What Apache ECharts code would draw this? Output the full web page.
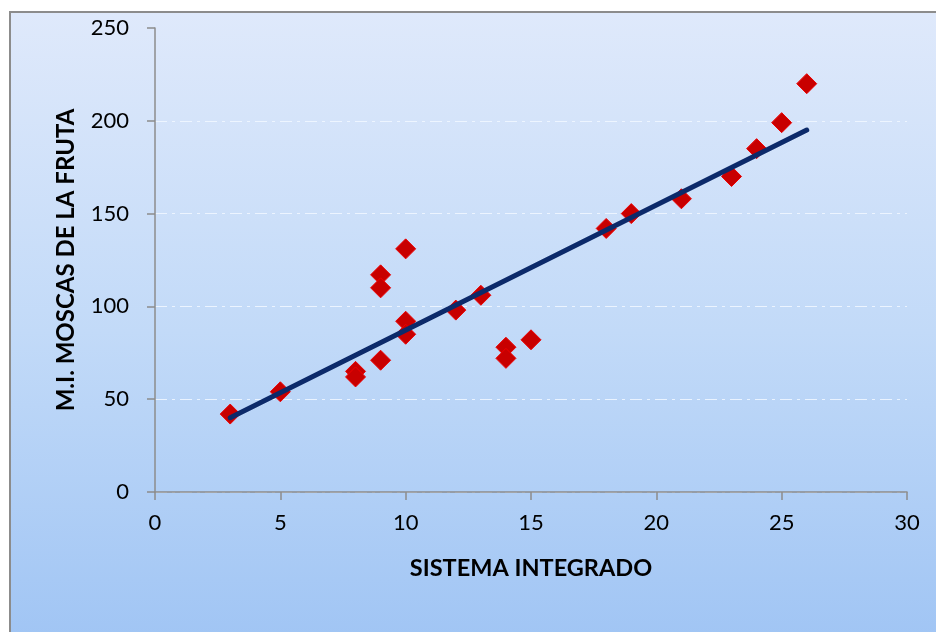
<!DOCTYPE html>
<html>
<head>
<meta charset="utf-8">
<script src="https://cdn.jsdelivr.net/npm/echarts@6/dist/echarts.min.js"></script>
<style>
html,body{margin:0;padding:0;background:#fff;}
#c{width:936px;height:632px;}
</style>
</head>
<body>
<div id="c"></div>
<script>
const xValues = [3, 5, 8, 8, 9, 9, 9, 10, 10, 10, 12, 13, 14, 14, 15, 18, 19, 21, 23, 24, 25, 26];
const yValues = [42, 54, 65, 62, 117, 110, 71, 131, 92, 85, 98, 106, 78, 72, 82, 142, 150, 158, 170, 185, 199, 220];
const trendX = [3, 26];
const trendY = [40, 195];
const xTicks = [0, 5, 10, 15, 20, 25, 30];
const yTicks = [0, 50, 100, 150, 200, 250];

const chart = echarts.init(document.getElementById('c'), null, {renderer: 'canvas'});
const FONT = 'Lato';
chart.setOption({
  animation: false,
  backgroundColor: '#ffffff',
  graphic: [{
    type: 'rect', z: -10, silent: true,
    shape: {x: 10, y: 12, width: 940, height: 640},
    style: {
      fill: new echarts.graphic.LinearGradient(0, 0, 0, 1, [
        {offset: 0, color: '#dfe9fb'},
        {offset: 0.5, color: '#c2daf8'},
        {offset: 1, color: '#9fc4f4'}
      ]),
      stroke: '#8c8c8c', lineWidth: 2
    }
  }],
  grid: {left: 155, right: 29, top: 28, bottom: 140},
  xAxis: {
    type: 'value', min: xTicks[0], max: xTicks[xTicks.length - 1], interval: 5,
    name: 'SISTEMA INTEGRADO', nameLocation: 'middle', nameGap: 64,
    nameTextStyle: {fontFamily: FONT, fontWeight: 'bold', fontSize: 23.5, color: '#000'},
    axisLine: {show: true, onZero: false, lineStyle: {color: '#8c8c8c', width: 1.5}},
    axisTick: {show: true, length: 8, lineStyle: {color: '#8c8c8c', width: 1.5}},
    axisLabel: {fontFamily: FONT, fontSize: 22, color: '#000', margin: 20},
    splitLine: {show: false}
  },
  yAxis: {
    type: 'value', min: yTicks[0], max: yTicks[yTicks.length - 1], interval: 50,
    name: 'M.I. MOSCAS DE LA FRUTA', nameLocation: 'middle', nameGap: 77, nameRotate: 90,
    nameTextStyle: {fontFamily: FONT, fontWeight: 'bold', fontSize: 24, color: '#000'},
    axisLine: {show: true, onZero: false, lineStyle: {color: '#8c8c8c', width: 1.5}},
    axisTick: {show: true, length: 8, lineStyle: {color: '#8c8c8c', width: 1.5}},
    axisLabel: {fontFamily: FONT, fontSize: 22, color: '#000', margin: 26},
    splitLine: {show: true, showMaxLine: false, lineStyle: {color: 'rgba(240,246,255,0.9)', width: 1.2, type: [12, 5, 3, 5]}}
  },
  series: [
    {
      type: 'scatter',
      data: xValues.map((x, i) => [x, yValues[i]]),
      symbol: 'diamond', symbolSize: 20,
      itemStyle: {color: '#c80000', borderColor: '#ee0000', borderWidth: 1, opacity: 1},
      z: 2
    },
    {
      type: 'line',
      data: trendX.map((x, i) => [x, trendY[i]]),
      symbol: 'none',
      lineStyle: {color: '#0c2a6a', width: 5, cap: 'round'},
      z: 3
    }
  ]
});
</script>
</body>
</html>
